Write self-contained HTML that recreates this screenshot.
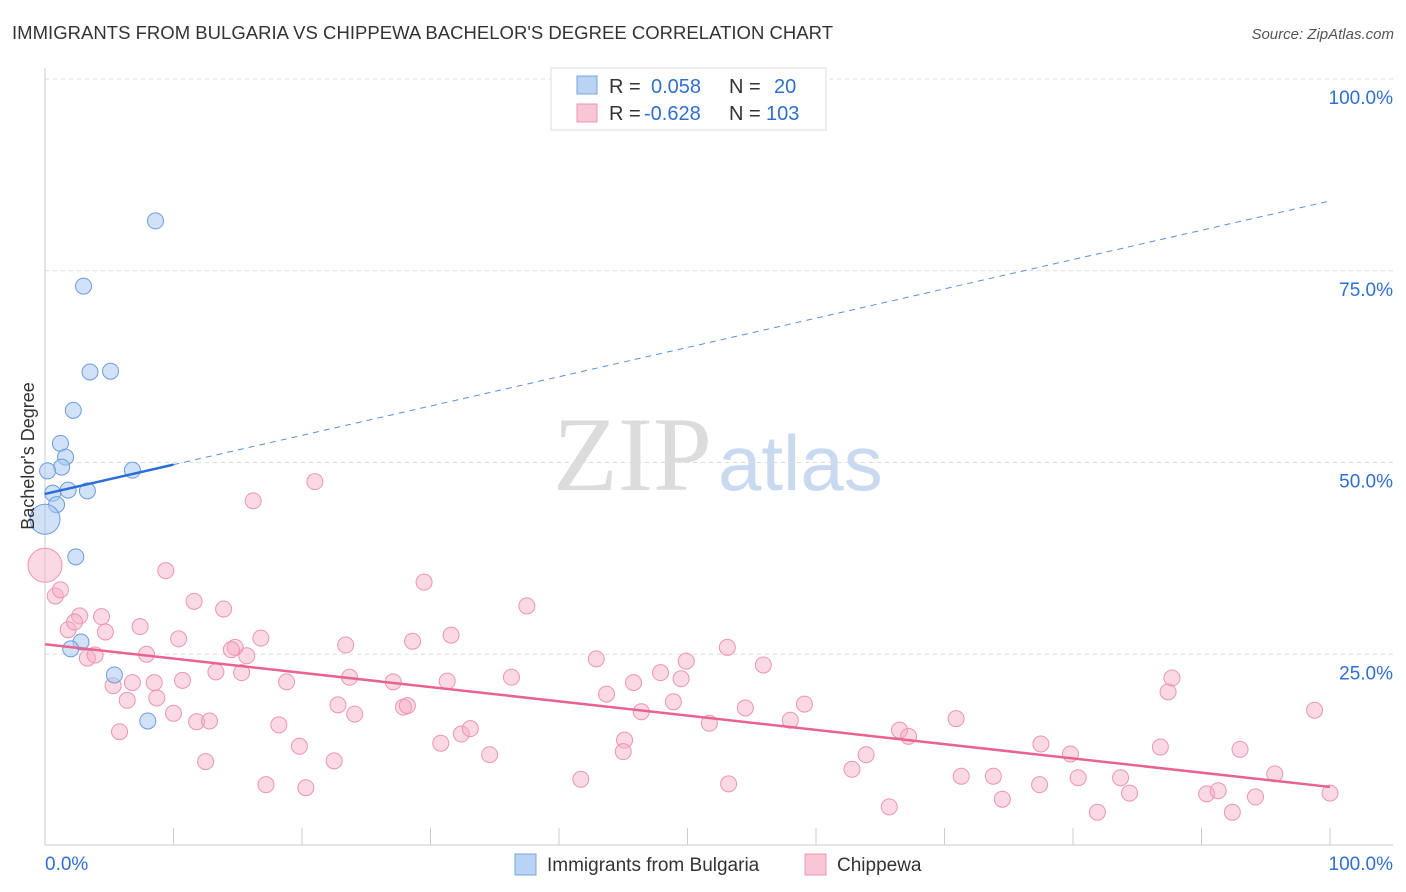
<!DOCTYPE html>
<html><head><meta charset="utf-8">
<style>
body{margin:0;background:#fff;font-family:"Liberation Sans",sans-serif;}
#wrap{position:relative;width:1406px;height:892px;overflow:hidden;}
svg{position:absolute;left:0;top:0;}
</style></head>
<body>
<div id="wrap">
<svg id="chart" width="1406" height="892">
  <text x="12" y="39" font-size="18.5" fill="#333" textLength="821">IMMIGRANTS FROM BULGARIA VS CHIPPEWA BACHELOR'S DEGREE CORRELATION CHART</text>
  <text x="1394" y="39" font-size="15" fill="#555" font-style="italic" text-anchor="end">Source: ZipAtlas.com</text>
  <text x="553" y="490" font-size="106" fill="#dcdcdc" font-family="Liberation Serif,serif">ZIP</text>
  <text x="718" y="490" font-size="78" fill="#c9daf0">atlas</text>
  <g id="grid"></g>
  <g id="axes"></g>
  <g id="marks"></g>
  <text transform="translate(34,456) rotate(-90)" font-size="18" fill="#333" text-anchor="middle">Bachelor's Degree</text>
  <g>
    <rect x="551" y="68" width="275" height="62" fill="#fff" stroke="#ddd"/>
    <rect x="577" y="76" width="20" height="18" fill="#b9d3f5" stroke="#7aa6e0"/>
    <rect x="577" y="104" width="20" height="18" fill="#f9c6d6" stroke="#ec95b1"/>
    <text x="609" y="93" font-size="20" fill="#333">R =</text>
    <text x="651" y="93" font-size="20" fill="#2f6fd1">0.058</text>
    <text x="729" y="93" font-size="20" fill="#333">N =</text>
    <text x="774" y="93" font-size="20" fill="#2f6fd1">20</text>
    <text x="609" y="120" font-size="20" fill="#333">R =</text>
    <text x="644" y="120" font-size="20" fill="#2f6fd1">-0.628</text>
    <text x="729" y="120" font-size="20" fill="#333">N =</text>
    <text x="766" y="120" font-size="20" fill="#2f6fd1">103</text>
  </g>
  <g>
    <rect x="515" y="854" width="21" height="21" fill="#b9d3f5" stroke="#7aa6e0"/>
    <text x="547" y="871" font-size="19" fill="#333">Immigrants from Bulgaria</text>
    <rect x="805" y="854" width="21" height="21" fill="#f9c6d6" stroke="#ec95b1"/>
    <text x="837" y="871" font-size="19" fill="#333">Chippewa</text>
  </g>
</svg>
</div>
<script>
const yTicks=[25,50,75,100];
const yTickLabels=["25.0%","50.0%","75.0%","100.0%"];
const xTickVals=[0,10,20,30,40,50,60,70,80,90,100];
const bulgariaX=[8.6,3.0,3.5,5.1,2.2,1.2,1.6,1.3,0.2,6.8,1.8,3.3,0.6,0.9,0,2.4,2.8,2.0,5.4,8.0];
const bulgariaY=[81.5,73.0,61.8,61.9,56.8,52.5,50.7,49.4,48.9,49.0,46.4,46.3,46.0,44.5,42.6,37.7,26.6,25.7,22.3,16.3];
const chippewaX=[0,0.8,1.2,1.8,2.7,2.3,4.4,4.7,3.3,3.9,7.4,7.9,5.3,6.8,8.5,6.4,8.7,5.8,9.4,11.6,10.4,10.7,10.0,11.8,12.8,12.5,13.9,13.3,14.8,14.5,15.3,15.7,16.2,16.8,18.8,18.2,17.2,19.8,20.3,21.0,23.4,23.7,22.8,24.1,22.5,27.1,27.9,28.2,29.5,28.6,31.3,31.6,30.8,32.4,33.1,34.6,36.3,37.5,41.7,42.9,43.7,45.8,46.4,45.1,45.0,47.9,48.9,49.5,49.9,51.7,53.1,53.2,54.5,55.9,58.0,59.1,62.8,63.9,65.7,66.5,67.2,70.9,71.3,73.8,74.5,77.5,77.4,79.8,80.4,81.9,83.7,84.4,86.8,87.4,87.7,90.4,91.3,92.4,93.0,94.2,95.7,98.8,100];
const chippewaY=[36.6,32.6,33.4,28.2,30.0,29.2,29.9,27.9,24.5,24.9,28.6,25.0,20.9,21.3,21.3,19.0,19.3,14.9,35.9,31.9,27.0,21.6,17.3,16.2,16.3,11.0,30.9,22.7,25.9,25.6,22.6,24.8,45.0,27.1,21.4,15.8,8.0,13.0,7.6,47.5,26.2,22.0,18.4,17.2,11.1,21.4,18.1,18.3,34.4,26.7,21.5,27.5,13.4,14.6,15.3,11.9,22.0,31.3,8.7,24.4,19.8,21.3,17.5,13.8,12.3,22.6,18.8,21.8,24.1,16.0,25.9,8.1,18.0,23.6,16.4,18.5,10.0,11.9,5.1,15.1,14.3,16.6,9.1,9.1,6.1,13.3,8.0,12.0,8.9,4.4,8.9,6.9,12.9,20.1,21.9,6.8,7.2,4.4,12.6,6.4,9.4,17.7,6.9];
const bulgariaTrend=[45.9,84.1];
const chippewaTrend=[26.3,7.7];

const NS="http://www.w3.org/2000/svg";
const X0=45,X1=1330,Y0=846,YS=7.67;
const xs=v=>X0+(X1-X0)*v/100;
const ys=v=>Y0-v*YS;
function mk(tag,attrs,parent){const e=document.createElementNS(NS,tag);for(const k in attrs)e.setAttribute(k,attrs[k]);parent.appendChild(e);return e;}
const grid=document.getElementById('grid'),axes=document.getElementById('axes'),marks=document.getElementById('marks');
yTicks.forEach((t,i)=>{
  const l=mk('line',{x1:X0,x2:1393,y1:ys(t),y2:ys(t),stroke:'#ddd','stroke-dasharray':'4,4'},grid);
  
  
  const tx=mk('text',{x:1393,y:ys(t)+25,'font-size':19,fill:'#2f6fd1','text-anchor':'end'},axes);
  tx.textContent=yTickLabels[i];
  
  
});
const ya=mk('line',{x1:X0,x2:X0,y1:68,y2:845,stroke:'#ccc'},axes);


const xa=mk('line',{x1:X0,x2:1393,y1:845,y2:845,stroke:'#ccc'},axes);


xTickVals.forEach(v=>{
  const t=mk('line',{x1:xs(v),x2:xs(v),y1:828,y2:845,stroke:'#ccc'},axes);
  
  
});
const xl0=mk('text',{x:45,y:870,'font-size':19,fill:'#2f6fd1'},axes);xl0.textContent='0.0%';


const xl1=mk('text',{x:1393,y:870,'font-size':19,fill:'#2f6fd1','text-anchor':'end'},axes);xl1.textContent='100.0%';



chippewaX.forEach((x,i)=>{
  const c=mk('circle',{cx:xs(x),cy:ys(chippewaY[i]),r:i===0?17:8,fill:'rgba(246,170,196,0.45)',stroke:'#ec95b1','stroke-width':1},marks);
  
  
});
bulgariaX.forEach((x,i)=>{
  const c=mk('circle',{cx:xs(x),cy:ys(bulgariaY[i]),r:i===14?15:8,fill:'rgba(170,200,242,0.55)',stroke:'#6c9ce0','stroke-width':1},marks);
  
  
});
const bt=v=>bulgariaTrend[0]+(bulgariaTrend[1]-bulgariaTrend[0])*v/100;
const b1=mk('line',{x1:xs(0),y1:ys(bt(0)),x2:xs(10),y2:ys(bt(10)),stroke:'#2a6dd6','stroke-width':2.5},marks);


const b2=mk('line',{x1:xs(10),y1:ys(bt(10)),x2:xs(100),y2:ys(bt(100)),stroke:'#5a8fe0','stroke-width':1,'stroke-dasharray':'6,5'},marks);


const p=mk('line',{x1:xs(0),y1:ys(chippewaTrend[0]),x2:xs(100),y2:ys(chippewaTrend[1]),stroke:'#e8638f','stroke-width':2.5},marks);


</script>
</body></html>
